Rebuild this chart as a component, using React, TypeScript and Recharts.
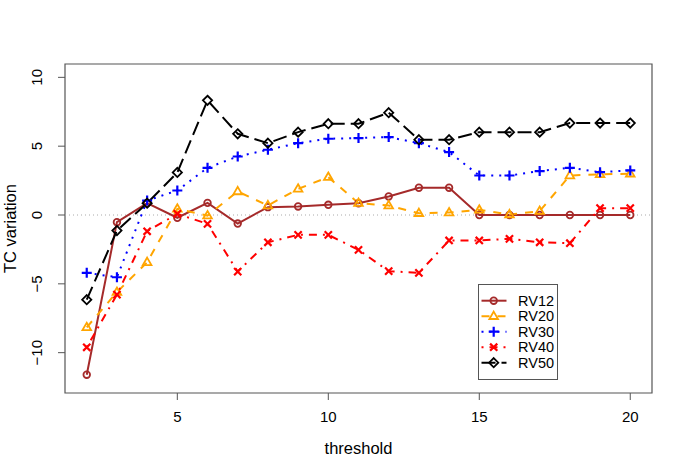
import React from 'react';
import { LineChart, Line, XAxis, YAxis, ReferenceLine, ReferenceArea } from 'recharts';

const thresholds = [2, 3, 4, 5, 6, 7, 8, 9, 10, 11, 12, 13, 14, 15, 16, 17, 18, 19, 20];
const rv12 = [-11.6, -0.52, 0.86, -0.2, 0.88, -0.62, 0.57, 0.62, 0.74, 0.85, 1.35, 1.98, 1.98, 0, 0, 0, 0, 0, 0];
const rv20 = [-8.16, -5.6, -3.43, 0.45, -0.04, 1.71, 0.69, 1.9, 2.75, 0.86, 0.69, 0.13, 0.18, 0.38, 0.04, 0.28, 2.87, 2.95, 3.0];
const rv30 = [-4.2, -4.52, 1.05, 1.78, 3.43, 4.25, 4.74, 5.22, 5.54, 5.59, 5.66, 5.22, 4.57, 2.87, 2.87, 3.19, 3.43, 3.11, 3.24];
const rv40 = [-9.61, -5.78, -1.18, 0.08, -0.64, -4.11, -1.98, -1.44, -1.44, -2.53, -4.08, -4.2, -1.85, -1.85, -1.73, -1.98, -2.05, 0.5, 0.5];
const rv50 = [-6.15, -1.13, 0.86, 3.09, 8.33, 5.9, 5.22, 6.02, 6.63, 6.63, 7.43, 5.47, 5.47, 6.02, 6.02, 6.02, 6.68, 6.68, 6.68];

const xTicks = [5, 10, 15, 20];
const yTicks = [-10, -5, 0, 5, 10];
const X_DOMAIN: [number, number] = [1.28, 20.72];
const Y_DOMAIN: [number, number] = [-12.93, 10.97];

const FONT = '"Liberation Sans", Arial, sans-serif';

type Kind = 'circle' | 'triangle' | 'plus' | 'cross' | 'diamond';

const series: { key: string; name: string; color: string; dash?: string; kind: Kind }[] = [
  { key: 'rv12', name: 'RV12', color: '#A52A2A', kind: 'circle' },
  { key: 'rv20', name: 'RV20', color: '#FFA500', dash: '8 8', kind: 'triangle' },
  { key: 'rv30', name: 'RV30', color: '#0000FF', dash: '2 6', kind: 'plus' },
  { key: 'rv40', name: 'RV40', color: '#FF0000', dash: '2 6 8 6', kind: 'cross' },
  { key: 'rv50', name: 'RV50', color: '#000000', dash: '14 6', kind: 'diamond' },
];

const data = thresholds.map((t, i) => ({
  threshold: t,
  rv12: rv12[i],
  rv20: rv20[i],
  rv30: rv30[i],
  rv40: rv40[i],
  rv50: rv50[i],
}));

function Marker({ kind, cx, cy, color }: { kind: Kind; cx: number; cy: number; color: string }) {
  const sw = 1.8;
  switch (kind) {
    case 'circle':
      return <circle cx={cx} cy={cy} r={3.3} fill="none" stroke={color} strokeWidth={sw} />;
    case 'triangle':
      return (
        <path d={`M${cx},${cy - 4.6} L${cx + 4.3},${cy + 2.8} L${cx - 4.3},${cy + 2.8} Z`} fill="none" stroke={color} strokeWidth={sw} />
      );
    case 'plus':
      return (
        <path d={`M${cx - 5},${cy} L${cx + 5},${cy} M${cx},${cy - 5} L${cx},${cy + 5}`} stroke={color} strokeWidth={2.2} />
      );
    case 'cross':
      return (
        <path d={`M${cx - 3.6},${cy - 3.6} L${cx + 3.6},${cy + 3.6} M${cx - 3.6},${cy + 3.6} L${cx + 3.6},${cy - 3.6}`} stroke={color} strokeWidth={2.2} />
      );
    default:
      return (
        <path d={`M${cx},${cy - 4.6} L${cx + 4.6},${cy} L${cx},${cy + 4.6} L${cx - 4.6},${cy} Z`} fill="none" stroke={color} strokeWidth={sw} />
      );
  }
}

function XTick(props: any) {
  const { x, payload } = props;
  return (
    <text x={x} y={421.5} textAnchor="middle" fontFamily={FONT} fontSize={15} fill="#000">
      {payload.value}
    </text>
  );
}

function YTick(props: any) {
  const { y, payload } = props;
  return (
    <text x={42.5} y={y} textAnchor="middle" fontFamily={FONT} fontSize={15} fill="#000" transform={`rotate(-90, 42.5, ${y})`}>
      {payload.value < 0 ? `\u2212${Math.abs(payload.value)}` : payload.value}
    </text>
  );
}

function LegendBox() {
  return (
    <svg width={80} height={96} style={{ display: 'block' }}>
      <rect x={0.5} y={0.5} width={79} height={95} fill="#fff" stroke="#555" strokeWidth={1} />
      {series.map((s, i) => {
        const y = 16.7 + i * 15.5;
        return (
          <g key={s.key}>
            <line x1={3.5} x2={28.5} y1={y} y2={y} stroke={s.color} strokeWidth={2} strokeDasharray={s.dash} />
            <Marker kind={s.kind} cx={15.7} cy={y} color={s.color} />
            <text x={40} y={y + 5.2} fontFamily={FONT} fontSize={14.5} fill="#000">
              {s.name}
            </text>
          </g>
        );
      })}
    </svg>
  );
}

export default function App() {
  return (
    <div style={{ position: 'fixed', left: 0, top: 0, width: 685, height: 474, background: '#fff' }}>
      <LineChart width={685} height={474} data={data} margin={{ top: 64, right: 33, bottom: 0, left: 0 }}>
        <XAxis
          dataKey="threshold"
          type="number"
          domain={X_DOMAIN}
          ticks={xTicks}
          allowDataOverflow
          axisLine={false}
          tickSize={7}
          tickLine={{ stroke: '#555' }}
          tick={<XTick />}
          height={81}
          label={{
            content: () => (
              <text x={358.5} y={454} textAnchor="middle" fontFamily={FONT} fontSize={16.5} fill="#000">
                threshold
              </text>
            ),
          }}
        />
        <YAxis
          type="number"
          domain={Y_DOMAIN}
          ticks={yTicks}
          allowDataOverflow
          axisLine={false}
          tickSize={7}
          tickLine={{ stroke: '#555' }}
          tick={<YTick />}
          width={65}
          label={{
            content: () => (
              <text x={15.5} y={228.5} textAnchor="middle" fontFamily={FONT} fontSize={16.5} fill="#000" transform="rotate(-90, 15.5, 228.5)">
                TC variation
              </text>
            ),
          }}
        />
        <ReferenceLine y={0} stroke="#aaa" strokeWidth={1} strokeDasharray="1 3" />
        <ReferenceArea
          x1={X_DOMAIN[0]}
          x2={X_DOMAIN[1]}
          y1={Y_DOMAIN[0]}
          y2={Y_DOMAIN[1]}
          fill="none"
          fillOpacity={0}
          stroke="#555"
          strokeWidth={1.2}
          ifOverflow="visible"
        />
        {series.map((s) => (
          <Line
            key={s.key}
            dataKey={s.key}
            name={s.name}
            type="linear"
            stroke={s.color}
            strokeWidth={2}
            strokeDasharray={s.dash}
            isAnimationActive={false}
            dot={(p: any) => <Marker key={`${s.key}-${p.index}`} kind={s.kind} cx={p.cx} cy={p.cy} color={s.color} />}
            activeDot={false}
          />
        ))}
      </LineChart>
      <div style={{ position: 'absolute', left: 478, top: 284 }}>
        <LegendBox />
      </div>
    </div>
  );
}
